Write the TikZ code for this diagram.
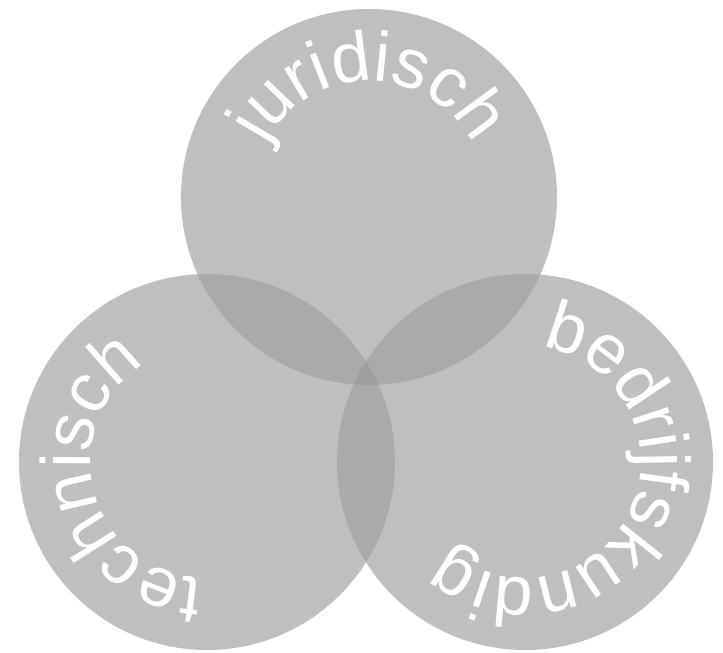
\documentclass[tikz,border=0pt]{standalone}
\usepackage{fontspec}
\setmainfont{Liberation Sans}
\usetikzlibrary{decorations.text,calc}
\definecolor{cone}{HTML}{BFBFBF}
\definecolor{ctwo}{HTML}{AAAAAA}
\definecolor{cthree}{HTML}{9E9E9E}
\newcommand{\ringfont}{\color{white}\fontsize{70}{70}\selectfont}
\tikzset{
  ringtext/.style={decorate, decoration={text along path, text align=center, text={#1}}}
}
\begin{document}
\begin{tikzpicture}[x=1pt,y=1pt]
\useasboundingbox (0,0) rectangle (723,653);
\def\R{188}
\def\T{116}
\coordinate (top) at (369,456);
\coordinate (left) at (207,191);
\coordinate (right) at (525,191);
% base circles
\fill[cone] (top) circle[radius=\R];
\fill[cone] (left) circle[radius=\R];
\fill[cone] (right) circle[radius=\R];
% pairwise overlaps
\begin{scope}
  \clip (top) circle[radius=\R];
  \fill[ctwo] (left) circle[radius=\R];
  \fill[ctwo] (right) circle[radius=\R];
\end{scope}
\begin{scope}
  \clip (left) circle[radius=\R];
  \fill[ctwo] (right) circle[radius=\R];
\end{scope}
% triple overlap
\begin{scope}
  \clip (top) circle[radius=\R];
  \clip (left) circle[radius=\R];
  \fill[cthree] (right) circle[radius=\R];
\end{scope}
% texts
\path[ringtext={|\ringfont|juridisch}] ($(top)+(180:\T)$) arc[start angle=180, end angle=0, radius=\T];
\path[ringtext={|\ringfont|technisch}] ($(left)+(285:\T)$) arc[start angle=285, end angle=105, radius=\T];
\path[ringtext={|\ringfont|bedrijfskundig}] ($(right)+(95:\T)$) arc[start angle=95, end angle=-145, radius=\T];
\end{tikzpicture}
\end{document}
